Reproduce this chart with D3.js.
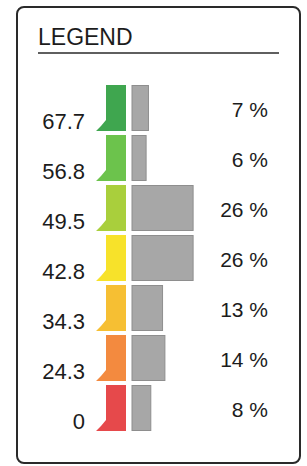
<!DOCTYPE html>
<html>
<head>
<meta charset="utf-8">
<script src="https://cdn.jsdelivr.net/npm/d3@7"></script>
<style>
  html, body { margin: 0; padding: 0; background: #fff; }
  text { font-family: "Liberation Sans", Arial, sans-serif; fill: #1c1c1c; }
</style>
</head>
<body>
<div id="legend"></div>
<script>
// legend classes, top to bottom
var thresholds = ["67.7", "56.8", "49.5", "42.8", "34.3", "24.3", "0"];
var shares = [7, 6, 26, 26, 13, 14, 8];
var classColors = ["#3fa64f", "#6cc34c", "#a9cf3c", "#f7e22a", "#f6bf33", "#f38a3f", "#e6494b"];

var rows = thresholds.map(function(t, i) {
  return { label: t, share: shares[i], color: classColors[i] };
});

var width = 307, height = 466;
var svg = d3.select("#legend").append("svg")
    .attr("width", width)
    .attr("height", height);

// frame
svg.append("rect")
    .attr("x", 17).attr("y", 7)
    .attr("width", 283).attr("height", 456)
    .attr("rx", 7)
    .attr("fill", "#fff")
    .attr("stroke", "#2a2a2a")
    .attr("stroke-width", 2);

svg.append("text")
    .attr("x", 38).attr("y", 45)
    .style("font-size", "23px")
    .text("LEGEND");

svg.append("line")
    .attr("x1", 38).attr("x2", 279)
    .attr("y1", 53).attr("y2", 53)
    .attr("stroke", "#2a2a2a")
    .attr("stroke-width", 1.5);

var y = d3.scaleBand()
    .domain(thresholds)
    .range([85, 431])
    .paddingInner(0.08);

var x = d3.scaleLinear()
    .domain([0, 100])
    .range([132, 132 + 235]);

var colorLeft = 106, colorRight = 126;

var row = svg.append("g").selectAll(".row")
  .data(rows)
  .enter().append("g")
    .attr("class", "row");

// coloured class bar with the little pointer foot at its lower left
row.append("path")
    .attr("fill", function(d) { return d.color; })
    .attr("d", function(d) {
      var t = y(d.label), b = t + y.bandwidth();
      return "M" + colorLeft + "," + t +
             "L" + colorRight + "," + t +
             "L" + colorRight + "," + b +
             "L" + (colorLeft - 10) + "," + b +
             "L" + (colorLeft - 5) + "," + (b - 5) +
             "L" + colorLeft + "," + (b - 11) + "Z";
    });

// gray share bar
row.append("rect")
    .attr("x", x(0))
    .attr("y", function(d) { return y(d.label) + 0.5; })
    .attr("width", function(d) { return x(d.share) - x(0); })
    .attr("height", y.bandwidth() - 1)
    .attr("fill", "#a7a7a7")
    .attr("stroke", "#8e8e8e")
    .attr("stroke-width", 1);

row.append("text")
    .attr("x", 85)
    .attr("y", function(d) { return y(d.label) + y.bandwidth() - 2; })
    .attr("text-anchor", "end")
    .style("font-size", "22px")
    .text(function(d) { return d.label; });

row.append("text")
    .attr("x", 268)
    .attr("y", function(d) { return y(d.label) + y.bandwidth() - 14; })
    .attr("text-anchor", "end")
    .style("font-size", "21px")
    .text(function(d) { return d.share + " %"; });
</script>
</body>
</html>
